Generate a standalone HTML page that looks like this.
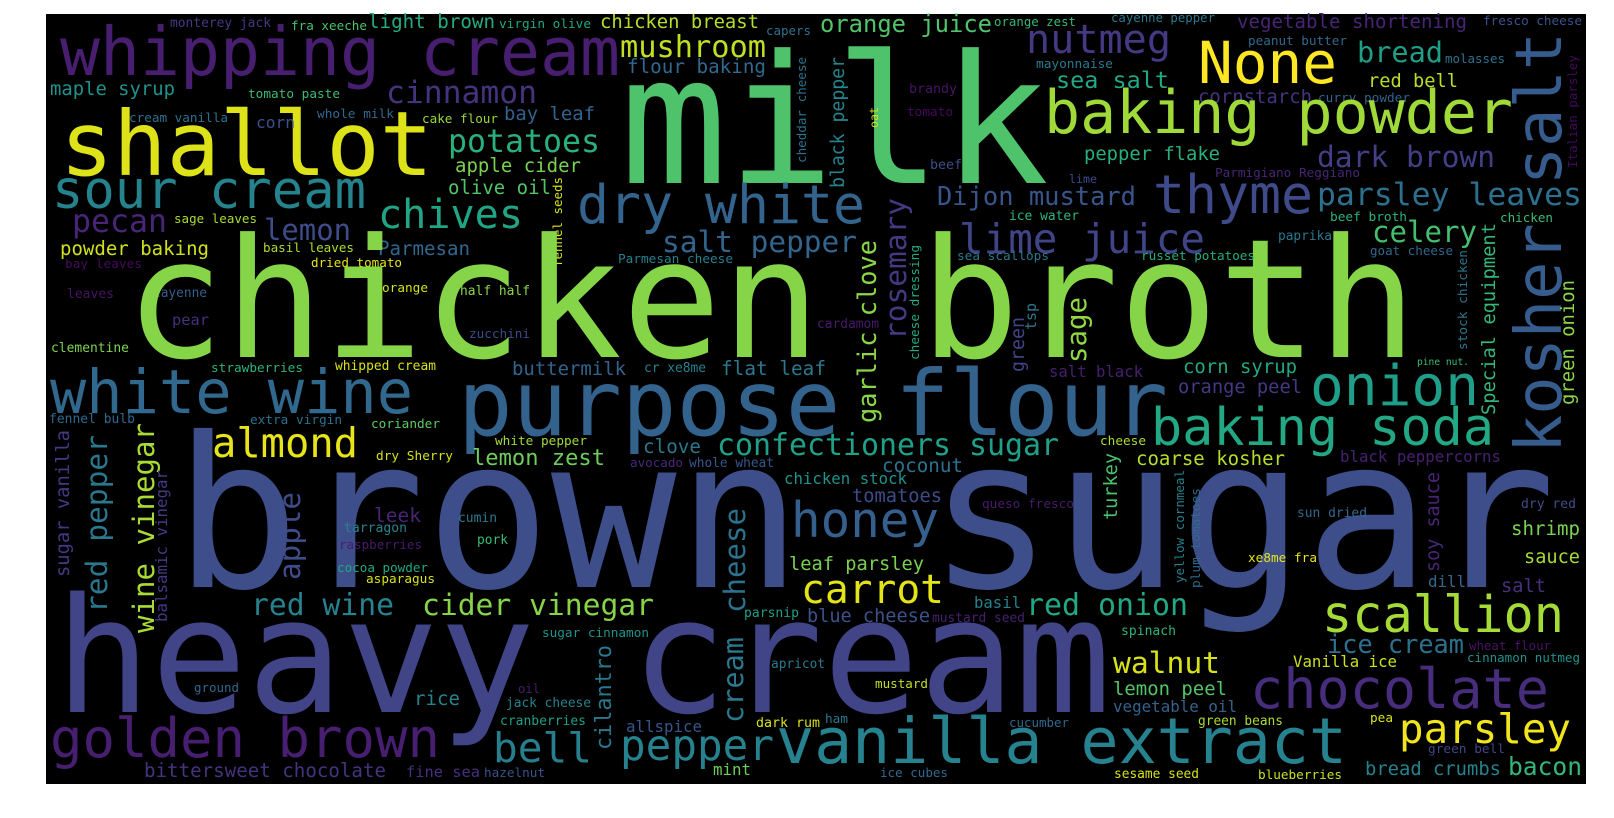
<!DOCTYPE html>
<html><head><meta charset="utf-8"><style>
html,body{margin:0;padding:0;background:#fff;width:1614px;height:818px;overflow:hidden}
svg{display:block}
text{font-family:"DejaVu Sans Mono","Liberation Mono",monospace}
</style></head><body>
<svg id="cloud" width="1614" height="818" viewBox="0 0 1614 818" xmlns="http://www.w3.org/2000/svg">
<rect x="46" y="14" width="1540" height="770" fill="#000"/>
</svg>
<script>
// words, colors and layout (x, baseline y, width/length, rotation)
const words=["whipping cream","monterey jack","fra xeeche","light brown","virgin olive","chicken breast","capers","mushroom","flour baking","maple syrup","tomato paste","cinnamon","shallot","cream vanilla","corn","whole milk","cake flour","bay leaf","potatoes","apple cider","olive oil","fennel seeds","cheddar cheese","sour cream","chives","pecan","lemon","sage leaves","powder baking","basil leaves","Parmesan","bay leaves","dried tomato","Parmesan cheese","leaves","cayenne","orange","half half","pear","zucchini","clementine","strawberries","whipped cream","buttermilk","cr xe8me","flat leaf","milk","chicken broth","dry white","salt pepper","white wine","purpose flour",
"orange juice","orange zest","cayenne pepper","vegetable shortening","fresco cheese","nutmeg","None","bread","peanut butter","molasses","mayonnaise","sea salt","red bell","brandy","tomato","oat","black pepper","cornstarch","curry powder","baking powder","kosher salt","pepper flake","dark brown","beef","lime","Parmigiano Reggiano","thyme","parsley leaves","Dijon mustard","rosemary","garlic clove","cheese dressing","ice water","lime juice","sea scallops","russet potatoes","sage","beef broth","chicken","paprika","celery","goat cheese","Italian parsley","Special equipment","stock chicken","green onion","green","tsp","cardamom","pine nut.","salt black","corn syrup","orange peel","onion",
"fennel bulb","extra virgin","coriander","brown sugar","almond","dry Sherry","white pepper","lemon zest","clove","confectioners sugar","avocado","whole wheat","chicken stock","sugar vanilla","red pepper","wine vinegar","balsamic vinegar","apple","leek","cumin","tarragon","pork","raspberries","cocoa powder","asparagus","cheese","cream","cilantro","red wine","cider vinegar","parsnip","sugar cinnamon","heavy cream","apricot","ground","rice","oil","jack cheese","cranberries","allspice","dark rum","golden brown","bell","pepper","bittersweet chocolate","fine sea","hazelnut","mint","vanilla extract",
"baking soda","cheese","coarse kosher","coconut","black peppercorns","turkey","tomatoes","queso fresco","yellow cornmeal","plum tomatoes","soy sauce","sun dried","dry red","honey","shrimp","sauce","leaf parsley","xe8me fra","dill","salt","carrot","basil","red onion","scallion","blue cheese","mustard seed","spinach","ice cream","wheat flour","cinnamon nutmeg","Vanilla ice","walnut","chocolate","mustard","lemon peel","vegetable oil","ham","cucumber","green beans","pea","parsley","green bell","bread crumbs","bacon","ice cubes","sesame seed","blueberries"];
const colors=["#481f70","#443983","#4ac16d","#25ab82","#21a685","#b5de2b","#2c728e","#c2df23","#30698e","#20928c","#3bbb75","#46337e","#dde318","#2d718e","#3b528b","#31688e","#95d840","#33638d","#2ab07f","#7ad151","#52c569","#d8e219","#2c728e","#25838e","#21a685","#482576","#3e4c8a","#a8db34","#d0e11c","#addc30","#31678e","#46085c","#e5e419","#277f8e","#471365","#355f8d","#d2e21b","#8bd646","#46307e","#3e4989","#7fd34e","#2eb37c","#d8e219","#33638d","#26828e","#2a788e","#4ec36b","#86d549","#32648e","#32658e","#31688e","#33638d",
"#50c46a","#35b779","#2a788e","#482475","#3b528b","#443983","#fde725","#1f9f88","#31688e","#2c728e","#2a788e","#22a884","#bade28","#471365","#46085c","#d8e219","#25848e","#46337e","#33638d","#a0da39","#365c8d","#29af7f","#433e85","#3e4c8a","#3e4c8a","#482475","#3e4a89","#2d708e","#39568c","#443983","#8bd646","#25ab82","#2fb47c","#414487","#2a788e","#27ad81","#90d743","#2db27d","#3bbb75","#2a788e","#44bf70","#31688e","#46085c","#35b779","#2a788e","#8bd646","#414487","#2a788e","#481a6c","#3bbb75","#481f70","#22a884","#443983","#1f9e89",
"#31688e","#2d718e","#5ec962","#3d4e8a","#e7e419","#d2e21b","#a0da39","#6ccd5a","#2a788e","#1fa088","#482878","#39568c","#20928c","#443983","#2a788e","#a8db34","#443983","#3e4c8a","#482576","#2a788e","#26828e","#3bbb75","#481a6c","#22a884","#d8e219","#2c728e","#2a788e","#2a788e","#26828e","#86d549","#1f9e89","#20928c","#414487","#2a788e","#31688e","#25838e","#481a6c","#26828e","#1f9e89","#39568c","#d8e219","#481f70","#277f8e","#26828e","#46337e","#46307e","#3b528b","#6ccd5a","#26828e",
"#22a884","#a8db34","#b5de2b","#2c728e","#482071","#4ac16d","#3e4c8a","#481a6c","#277f8e","#31688e","#482576","#31688e","#3e4c8a","#355f8d","#7ad151","#a5db36","#7ad151","#e5e419","#31688e","#46307e","#e2e418","#26828e","#22a884","#a5db36","#3b528b","#481f70","#2eb37c","#2d708e","#471365","#21918c","#cae11f","#d8e219","#472d7b","#c2df23","#52c569","#33638d","#2a788e","#31688e","#addc30","#d8e219","#f1e51d","#414487","#25838e","#35b779","#31688e","#d8e219","#cae11f"];
const xs=[60,170,291,368,499,600,766,620,627,50,248,386,60,129,256,317,422,504,448,455,448,562,806,52,378,72,264,174,60,263,378,65,311,618,67,153,382,460,172,469,51,211,335,512,644,721,620,125,577,662,50,458,
820,994,1111,1237,1483,1026,1198,1357,1248,1445,1036,1056,1368,909,907,878,844,1198,1318,1044,1561,1084,1317,930,1069,1215,1153,1317,937,906,876,919,1009,959,957,1141,1086,1330,1500,1278,1372,1370,1577,1495,1467,1574,1024,1036,817,1417,1049,1183,1178,1310,
49,250,371,174,212,376,495,472,643,717,630,689,784,69,107,154,167,300,374,458,344,477,339,337,366,745,743,611,251,422,744,542,55,771,194,414,518,506,500,626,756,50,493,620,144,406,484,713,776,
1151,1100,1136,882,1340,1117,852,982,1184,1200,1439,1297,1521,791,1511,1524,789,1248,1428,1501,801,974,1026,1322,807,932,1121,1327,1469,1467,1293,1113,1250,875,1113,1113,825,1009,1198,1370,1399,1428,1365,1508,880,1114,1258];
const ys=[75,27,30,28,28,28,35,57,73,95,98,103,175,122,128,118,123,120,152,172,194,267,163,208,228,232,240,223,255,252,255,268,267,263,298,297,292,295,325,338,352,372,370,375,372,375,183,357,223,252,413,435,
32,26,22,28,25,53,83,62,45,63,68,88,87,93,116,128,188,103,102,133,453,160,167,169,183,177,213,205,205,340,423,360,220,253,260,260,363,221,222,240,242,255,168,415,350,405,372,330,328,365,377,373,393,405,
423,424,428,587,457,460,445,465,453,455,467,467,484,577,613,633,622,580,522,522,532,544,549,572,583,613,723,750,615,615,617,637,712,668,692,705,693,707,725,732,727,757,762,760,777,777,777,775,763,
445,445,465,472,462,520,502,508,583,588,572,517,508,537,535,563,570,562,587,592,603,608,615,632,622,622,635,653,650,662,667,673,708,688,695,712,723,727,725,722,743,753,775,775,777,778,779];
const widths=[560,101,76,127,92,159,45,146,139,125,92,151,373,99,39,77,76,91,152,126,103,90,106,314,145,95,87,83,149,91,92,77,91,115,47,54,46,70,37,61,78,92,101,114,62,105,429,1292,288,195,363,710,
172,82,104,230,99,145,139,86,99,60,77,113,90,48,46,21,131,114,92,469,421,136,178,32,28,145,160,265,199,142,183,115,70,246,92,114,66,77,53,54,105,83,113,192,100,125,55,27,62,52,94,114,124,169,
86,92,69,1382,146,77,92,133,58,342,53,85,123,147,178,210,152,88,47,39,63,31,83,91,69,105,86,105,143,232,55,107,1056,54,45,46,22,85,86,76,64,390,99,154,242,74,61,38,571,
343,46,149,81,161,67,90,92,113,100,100,70,55,148,69,56,135,69,38,45,143,47,162,242,123,93,55,137,82,113,104,107,299,53,114,124,23,60,85,23,172,77,136,74,68,85,84];
const rotated=["fennel seeds","cheddar cheese","oat","black pepper","kosher salt","rosemary","garlic clove","cheese dressing","sage","Italian parsley","Special equipment","stock chicken","green onion","green","tsp","sugar vanilla","red pepper","wine vinegar","balsamic vinegar","apple","turkey","yellow cornmeal","plum tomatoes","soy sauce","cilantro"];
const rotatedIdx=[131,132]; // vertical "cheese" and "cream"

const svg=document.getElementById('cloud');
const NS='http://www.w3.org/2000/svg';
for(let i=0;i<words.length;i++){
  const w=words[i];
  const len=widths[i];
  const fs=len/(0.6*w.length);
  const t=document.createElementNS(NS,'text');
  const isRot=rotated.includes(w)||rotatedIdx.includes(i);
  t.setAttribute('font-size',fs.toFixed(1));
  t.setAttribute('fill',colors[i]);
  t.setAttribute('textLength',len);
  t.setAttribute('lengthAdjust','spacingAndGlyphs');
  if(isRot){
    t.setAttribute('x',0);t.setAttribute('y',0);
    t.setAttribute('transform','translate('+xs[i]+','+ys[i]+') rotate(-90)');
  }else{
    t.setAttribute('x',xs[i]);t.setAttribute('y',ys[i]);
  }
  
  
  t.textContent=w;
  svg.appendChild(t);
}
</script>
</body></html>
